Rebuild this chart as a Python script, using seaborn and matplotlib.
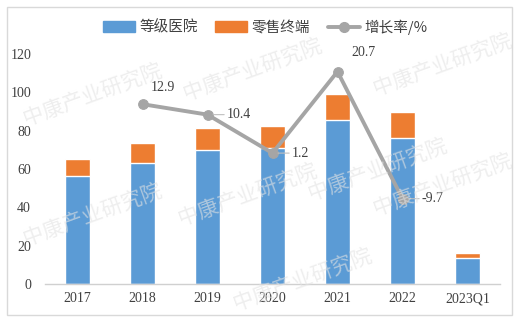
import matplotlib
matplotlib.use("Agg")
import matplotlib.pyplot as plt
import seaborn as sns
import numpy as np
import pandas as pd
from matplotlib.lines import Line2D
from matplotlib.patches import Patch, Rectangle

categories = ["2017", "2018", "2019", "2020", "2021", "2022", "2023Q1"]
hospital = [56.3, 63.3, 69.9, 70.8, 85.5, 76.3, 13.4]
retail = [8.9, 10.1, 11.3, 11.6, 13.6, 13.3, 2.9]
growth_years = ["2018", "2019", "2020", "2021", "2022"]
growth = [12.9, 10.4, 1.2, 20.7, -9.7]
growth_labels = ["12.9", "10.4", "1.2", "20.7", "-9.7"]
y_ticks = [0, 20, 40, 60, 80, 100, 120]

BLUE = "#5B9BD5"
ORANGE = "#ED7D31"
GRAY = "#A5A5A5"
TXT = "#404040"

sns.set_theme(style="white")
plt.rcParams["font.family"] = ["Noto Sans CJK SC", "DejaVu Sans"]

fig = plt.figure(figsize=(5.30, 3.22), dpi=100)
ax = fig.add_axes([45 / 530, 1 - 284 / 322, 455 / 530, 240 / 322])

df = pd.DataFrame({"cat": categories, "hospital": hospital, "retail": retail})
df["total"] = df["hospital"] + df["retail"]

sns.barplot(data=df, x="cat", y="total", color=ORANGE, width=0.395, ax=ax,
            saturation=1, order=categories)
sns.barplot(data=df, x="cat", y="hospital", color=BLUE, width=0.395, ax=ax,
            saturation=1, order=categories)

ax.set_xlim(-0.5, len(categories) - 0.5)
ax.set_ylim(0, 120 * 240 / 230)
ax.set_yticks(y_ticks)
ax.set_yticklabels([str(v) for v in y_ticks], family="Liberation Serif",
                   fontsize=10, color=TXT)
ax.set_xticks(range(len(categories)))
ax.set_xticklabels(categories, family="Liberation Serif", fontsize=10, color=TXT)
ax.tick_params(axis="both", length=0, pad=6)
ax.tick_params(axis="y", pad=10)
ax.set_xlabel("")
ax.set_ylabel("")
for s in ["top", "right", "left"]:
    ax.spines[s].set_visible(False)
ax.spines["bottom"].set_color("#D0D0D0")
ax.spines["bottom"].set_linewidth(1)

ax2 = ax.twinx()
xpos = [categories.index(c) for c in growth_years]
sns.lineplot(x=xpos, y=growth, ax=ax2, color=GRAY, linewidth=2.8, marker="o",
             markersize=7, markeredgecolor=GRAY, markerfacecolor=GRAY)
ax2.set_ylim(-30.1, -30.1 + 55 * 240 / 230)
ax2.set_axis_off()

offsets = [(6, 7), (14, 0), (14, 0), (10, 9), (14, 0)]
for x, y, lab, off in zip(xpos, growth, growth_labels, offsets):
    va = "bottom" if off[1] > 0 else "center"
    ax2.annotate(lab, (x, y), xytext=off, textcoords="offset points",
                 ha="left", va=va, fontsize=10, family="Liberation Serif",
                 color=TXT)
    if off[1] == 0:
        ax2.annotate("", (x, y), xytext=(off[0] - 2, 0), textcoords="offset points",
                     arrowprops=dict(arrowstyle="-", color="#BFBFBF", lw=0.8,
                                     shrinkA=0, shrinkB=4))

handles = [Patch(facecolor=BLUE, edgecolor=BLUE),
           Patch(facecolor=ORANGE, edgecolor=ORANGE),
           Line2D([0], [0], color=GRAY, lw=2.8, marker="o", markersize=7)]
labels = ["等级医院", "零售终端", "增长率/%"]
fig.legend(handles, labels, loc="center", bbox_to_anchor=(265 / 530, 1 - 27 / 322),
           ncol=3, frameon=False, fontsize=10.5, handlelength=2.2,
           handletextpad=0.3, columnspacing=1.2, labelcolor=TXT)

# watermarks (kept inside the figure)
wm = "中康产业研究院"
for (x, y) in [(20, 95), (180, 70), (370, 65), (175, 195), (305, 170),
               (20, 215), (370, 185), (230, 280)]:
    fig.text(x / 530, 1 - y / 322, wm, fontsize=15, color="#E3E3E3", alpha=0.6,
             rotation=20, ha="left", va="center", zorder=0)

# outer border
fig.add_artist(Rectangle((7 / 530, 1 - 315 / 322), 505 / 530, 308 / 322,
                         transform=fig.transFigure, fill=False,
                         edgecolor="#D9D9D9", linewidth=1))

fig.savefig("out.png", dpi=100)
